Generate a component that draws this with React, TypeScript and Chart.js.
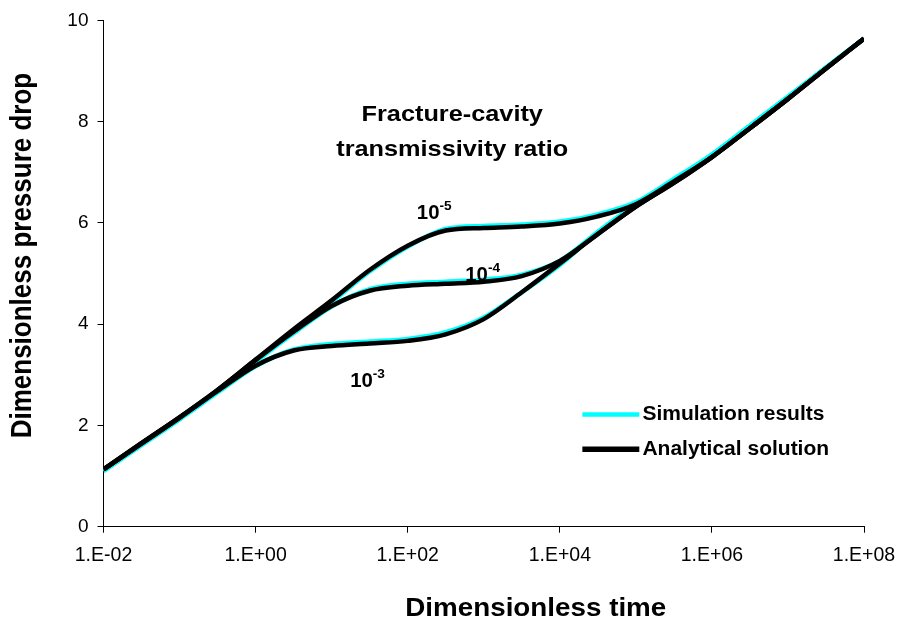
import React, { useEffect, useRef } from "react";
import { Chart, registerables } from "chart.js";

Chart.register(...registerables);

// Dimensionless time (half-decade steps)
const times = [
  0.01, 0.0316, 0.1, 0.316, 1, 3.16, 10, 31.6, 100, 316, 1000, 3162, 10000,
  31623, 100000, 316228, 1000000, 3162278, 10000000, 31622777, 100000000,
];

// Analytical solution (black)
const analytical5 = [
  1.13, 1.65, 2.16, 2.7, 3.3, 3.9, 4.47, 5.07, 5.55, 5.85, 5.9, 5.93, 5.99,
  6.13, 6.37, 6.82, 7.3, 7.87, 8.45, 9.05, 9.64,
];
const analytical4 = [
  1.13, 1.65, 2.16, 2.7, 3.29, 3.85, 4.36, 4.66, 4.76, 4.8, 4.84, 4.95, 5.25,
  5.78, 6.32, 6.79, 7.3, 7.87, 8.45, 9.05, 9.64,
];
const analytical3 = [
  1.13, 1.64, 2.15, 2.68, 3.18, 3.48, 3.57, 3.62, 3.67, 3.8, 4.1, 4.63, 5.2,
  5.78, 6.32, 6.79, 7.3, 7.87, 8.45, 9.05, 9.64,
];

// Simulation results (cyan)
const simulation5 = [
  1.1, 1.62, 2.13, 2.67, 3.27, 3.87, 4.44, 5.04, 5.53, 5.88, 5.94, 5.97, 6.03,
  6.17, 6.41, 6.87, 7.35, 7.92, 8.49, 9.07, 9.64,
];
const simulation4 = [
  1.1, 1.62, 2.13, 2.67, 3.26, 3.82, 4.35, 4.69, 4.8, 4.84, 4.88, 4.98, 5.25,
  5.82, 6.36, 6.84, 7.35, 7.92, 8.49, 9.07, 9.64,
];
const simulation3 = [
  1.1, 1.61, 2.12, 2.65, 3.17, 3.5, 3.61, 3.66, 3.71, 3.84, 4.13, 4.63, 5.17,
  5.82, 6.36, 6.84, 7.35, 7.92, 8.49, 9.07, 9.64,
];

const xTickValues = [0.01, 1, 100, 10000, 1000000, 100000000];
const xTickLabels = ["1.E-02", "1.E+00", "1.E+02", "1.E+04", "1.E+06", "1.E+08"];
const yTickValues = [0, 2, 4, 6, 8, 10];

const ratioExponents = ["-5", "-4", "-3"];
const titleLines = ["Fracture-cavity", "transmissivity ratio"];
const legendLabels = ["Simulation results", "Analytical solution"];
const xAxisTitle = "Dimensionless time";
const yAxisTitle = "Dimensionless pressure drop";

const FONT = "'Liberation Sans', Arial, Helvetica, sans-serif";
const CYAN = "#00FFFF";
const BLACK = "#000000";

// annotation anchors (data coordinates)
const ratioAnchors = [
  { x: 132, y: 6.07 },
  { x: 571, y: 4.85 },
  { x: 17.5, y: 2.75 },
];
const titleAnchor = { x: 385, y1: 8.01, y2: 7.33 };
const legendAnchor = { x1: 19800, x2: 111000, xt: 122000, y1: 2.216, y2: 1.528 };

function stretchedText(
  ctx: CanvasRenderingContext2D,
  text: string,
  x: number,
  y: number,
  font: string,
  sx: number,
  align: CanvasTextAlign,
  baseline: CanvasTextBaseline
) {
  ctx.save();
  ctx.font = font;
  ctx.textAlign = align;
  ctx.textBaseline = baseline;
  ctx.fillStyle = BLACK;
  ctx.translate(x, y);
  ctx.scale(sx, 1);
  ctx.fillText(text, 0, 0);
  ctx.restore();
}

const textPlugin = {
  id: "customText",
  afterDraw(chart: any) {
    const ctx: CanvasRenderingContext2D = chart.ctx;
    const xs = chart.scales.x;
    const ys = chart.scales.y;
    const area = chart.chartArea;

    // title inside plot
    const tx = xs.getPixelForValue(titleAnchor.x);
    stretchedText(ctx, titleLines[0], tx, ys.getPixelForValue(titleAnchor.y1), `bold 22px ${FONT}`, 1.15, "center", "alphabetic");
    stretchedText(ctx, titleLines[1], tx, ys.getPixelForValue(titleAnchor.y2), `bold 22px ${FONT}`, 1.15, "center", "alphabetic");

    // ratio labels 10^-n
    ratioAnchors.forEach((a, i) => {
      const px = xs.getPixelForValue(a.x);
      const py = ys.getPixelForValue(a.y);
      ctx.save();
      ctx.font = `bold 20px ${FONT}`;
      const w = ctx.measureText("10").width * 1.02;
      ctx.restore();
      stretchedText(ctx, "10", px, py, `bold 20px ${FONT}`, 1.02, "left", "alphabetic");
      stretchedText(ctx, ratioExponents[i], px + w, py - 9, `bold 13px ${FONT}`, 1.05, "left", "alphabetic");
    });

    // legend
    const lx1 = xs.getPixelForValue(legendAnchor.x1);
    const lx2 = xs.getPixelForValue(legendAnchor.x2);
    const ltx = xs.getPixelForValue(legendAnchor.xt);
    const ly1 = ys.getPixelForValue(legendAnchor.y1);
    const ly2 = ys.getPixelForValue(legendAnchor.y2);
    ctx.save();
    ctx.lineCap = "butt";
    ctx.strokeStyle = CYAN;
    ctx.lineWidth = 4.5;
    ctx.beginPath();
    ctx.moveTo(lx1, ly1);
    ctx.lineTo(lx2, ly1);
    ctx.stroke();
    ctx.strokeStyle = BLACK;
    ctx.lineWidth = 5.5;
    ctx.beginPath();
    ctx.moveTo(lx1, ly2);
    ctx.lineTo(lx2, ly2);
    ctx.stroke();
    ctx.restore();
    stretchedText(ctx, legendLabels[0], ltx, ly1, `bold 20px ${FONT}`, 1.05, "left", "middle");
    stretchedText(ctx, legendLabels[1], ltx, ly2, `bold 20px ${FONT}`, 1.05, "left", "middle");

    // axis titles
    const cx = (area.left + area.right) / 2 + 52;
    stretchedText(ctx, xAxisTitle, cx, 609, `bold 25.5px ${FONT}`, 1.09, "center", "middle");

    const cy = (area.top + area.bottom) / 2 - 18;
    ctx.save();
    ctx.font = `bold 26px ${FONT}`;
    ctx.textAlign = "center";
    ctx.textBaseline = "middle";
    ctx.fillStyle = BLACK;
    ctx.translate(23, cy);
    ctx.rotate(-Math.PI / 2);
    ctx.scale(1, 1.14);
    ctx.fillText(yAxisTitle, 0, 0);
    ctx.restore();
  },
};

function makeDataset(label: string, data: number[], color: string, order: number) {
  return {
    label,
    data: times.map((t, i) => ({ x: t, y: data[i] })),
    borderColor: color,
    backgroundColor: color,
    borderWidth: 4.5,
    pointRadius: 0,
    pointHoverRadius: 0,
    fill: false,
    cubicInterpolationMode: "monotone" as const,
    order,
  };
}

export default function App() {
  const canvasRef = useRef<HTMLCanvasElement | null>(null);

  useEffect(() => {
    if (!canvasRef.current) return;
    const chart = new Chart(canvasRef.current, {
      type: "line",
      data: {
        datasets: [
          makeDataset("Analytical 1e-5", analytical5, BLACK, 0),
          makeDataset("Analytical 1e-4", analytical4, BLACK, 0),
          makeDataset("Analytical 1e-3", analytical3, BLACK, 0),
          makeDataset("Simulation 1e-5", simulation5, CYAN, 1),
          makeDataset("Simulation 1e-4", simulation4, CYAN, 1),
          makeDataset("Simulation 1e-3", simulation3, CYAN, 1),
        ],
      },
      options: {
        animation: false,
        responsive: true,
        maintainAspectRatio: false,
        events: [],
        layout: { padding: { top: 20, right: 36, bottom: 0, left: 0 } },
        plugins: {
          legend: { display: false },
          tooltip: { enabled: false },
          title: { display: false },
        },
        scales: {
          x: {
            type: "logarithmic",
            min: 0.01,
            max: 100000000,
            afterBuildTicks: (scale: any) => {
              scale.ticks = xTickValues.map((v) => ({ value: v, major: true }));
            },
            afterFit: (scale: any) => {
              scale.height = 100.3;
              scale.paddingLeft = 0;
              scale.paddingRight = 0;
            },
            ticks: {
              autoSkip: false,
              maxRotation: 0,
              minRotation: 0,
              padding: 11,
              color: BLACK,
              font: { family: FONT, size: 19.5 },
              callback: (value: any) => {
                const idx = xTickValues.findIndex((v) => Math.abs(Math.log10(v) - Math.log10(Number(value))) < 1e-6);
                return idx >= 0 ? xTickLabels[idx] : "";
              },
            },
            grid: {
              display: true,
              drawOnChartArea: false,
              drawTicks: true,
              tickLength: 6,
              color: BLACK,
              lineWidth: 1,
            },
            border: { display: true, color: BLACK, width: 1 },
          },
          y: {
            type: "linear",
            min: 0,
            max: 10,
            afterBuildTicks: (scale: any) => {
              scale.ticks = yTickValues.map((v) => ({ value: v }));
            },
            afterFit: (scale: any) => {
              scale.width = 103.5;
            },
            ticks: {
              padding: 9,
              color: BLACK,
              font: { family: FONT, size: 19 },
              callback: (value: any) => String(value),
            },
            grid: {
              display: true,
              drawOnChartArea: false,
              drawTicks: true,
              tickLength: 6,
              color: BLACK,
              lineWidth: 1,
            },
            border: { display: true, color: BLACK, width: 1 },
          },
        },
      },
      plugins: [textPlugin],
    });
    return () => chart.destroy();
  }, []);

  return (
    <div
      style={{
        position: "fixed",
        left: 0,
        top: 0,
        width: 900,
        height: 627,
        background: "#ffffff",
      }}
    >
      <canvas ref={canvasRef} />
    </div>
  );
}
